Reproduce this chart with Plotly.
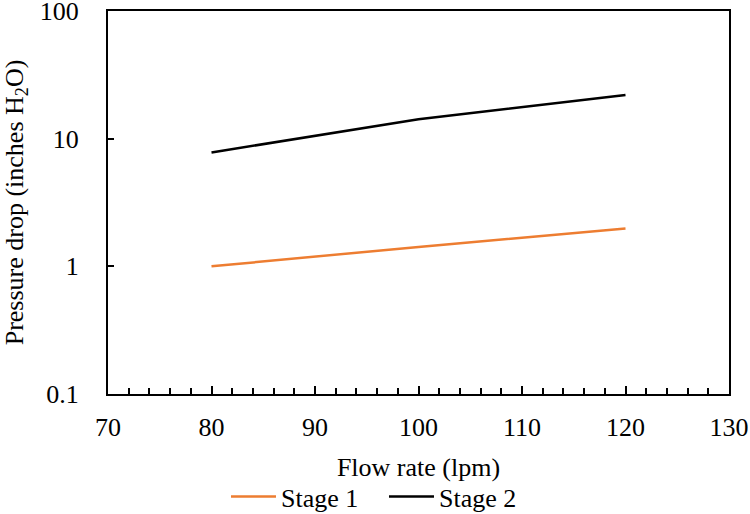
import plotly.graph_objects as go

flow = [80, 100, 120]
stage1 = [1.0, 1.42, 1.98]
stage2 = [7.8, 14.2, 22.0]
y_tickvals = [0.1, 1, 10, 100]
y_ticktext = ["0.1", "1", "10", "100"]

FONT = "Liberation Serif, Times New Roman, serif"

fig = go.Figure()
fig.add_trace(go.Scatter(x=flow, y=stage1, mode="lines", name="Stage 1",
                         line=dict(color="#ED7D31", width=2.5)))
fig.add_trace(go.Scatter(x=flow, y=stage2, mode="lines", name="Stage 2",
                         line=dict(color="#000000", width=2.5)))

fig.update_layout(
    width=750, height=514,
    margin=dict(l=108, r=21, t=11, b=120, autoexpand=False),
    paper_bgcolor="white", plot_bgcolor="white",
    font=dict(family=FONT, size=26, color="black"),
    showlegend=True,
    legend=dict(orientation="h", x=0.19, xanchor="left", y=-0.268, yanchor="middle",
                font=dict(family=FONT, size=26, color="black"), tracegroupgap=0,
                itemwidth=45, entrywidth=98, entrywidthmode="pixels"),
)
fig.update_xaxes(
    range=[70, 130], dtick=10, tick0=70,
    showline=True, linecolor="black", linewidth=2, mirror=True,
    ticks="inside", ticklen=8, tickwidth=1.5, tickcolor="black",
    minor=dict(dtick=2, ticks="inside", ticklen=6, tickwidth=1.5, tickcolor="black"),
    showgrid=False, zeroline=False, automargin=False, ticklabeloverflow="allow",
    tickfont=dict(family=FONT, size=26, color="black"),
    ticklabelstandoff=9,
    title=dict(text="Flow rate (lpm)", font=dict(family=FONT, size=26, color="black"), standoff=17),
)
fig.update_yaxes(
    type="log", range=[-1, 2],
    tickvals=y_tickvals, ticktext=y_ticktext,
    showline=True, linecolor="black", linewidth=2, mirror=True,
    ticks="inside", ticklen=6, tickwidth=1.5, tickcolor="black",
    showgrid=False, zeroline=False, automargin=False, ticklabeloverflow="allow",
    tickfont=dict(family=FONT, size=26, color="black"),
    ticklabelstandoff=22,
    title=dict(text="Pressure drop (inches H<sub>2</sub>O)", font=dict(family=FONT, size=26, color="black"), standoff=11),
)

fig.write_html("out.html", config={"displayModeBar": False},
               post_script="document.body.style.margin='0';")
